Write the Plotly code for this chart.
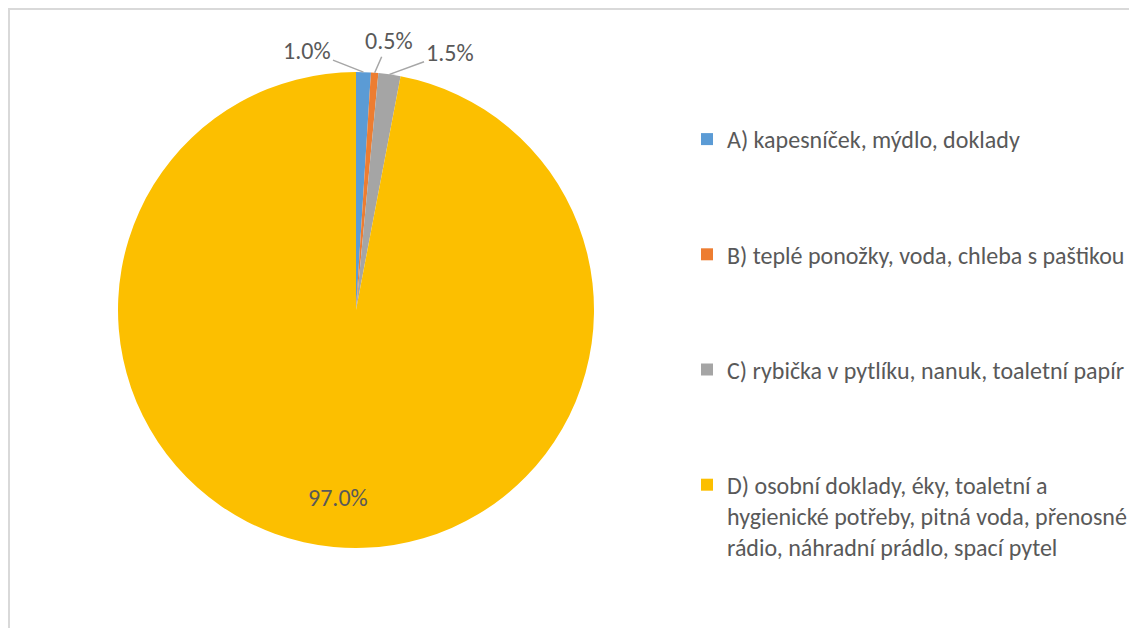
import math
import plotly.graph_objects as go

FONT = "Carlito, Lato, sans-serif"
TXT = "#595959"

labels = [
    "A) kapesníček, mýdlo, doklady",
    "B) teplé ponožky, voda, chleba s paštikou",
    "C) rybička v pytlíku, nanuk, toaletní papír",
    "D) osobní doklady, éky, toaletní a<br>hygienické potřeby, pitná voda, přenosné<br>rádio, náhradní prádlo, spací pytel",
]
values = [1.0, 0.5, 1.5, 97.0]
colors = ["#5B9BD5", "#ED7D31", "#A5A5A5", "#FCBF00"]

# page has an 8px body margin, so the figure is drawn 8px smaller/shifted
OFF = 8
W, H = 1137 - OFF, 628 - OFF
CX, CY, R = 356 - OFF, 310 - OFF, 238  # pie centre / radius in figure pixels

fig = go.Figure()
fig.add_trace(go.Pie(
    labels=labels, values=values, sort=False, direction="clockwise", rotation=0,
    marker=dict(colors=colors, line=dict(width=0)),
    textinfo="none", hoverinfo="label+percent", showlegend=False,
    domain=dict(x=[(CX - R) / W, (CX + R) / W], y=[(H - CY - R) / H, (H - CY + R) / H]),
))

# legend via dummy traces so the item spacing can match
for lab, col in zip(labels, colors):
    fig.add_trace(go.Scatter(x=[None], y=[None], mode="markers", name=lab, legendgroup=lab,
                             marker=dict(symbol="square", size=12, color=col)))

# percentage labels
total = sum(values)
offsets = [(-56, -22), (14, -32), (60, -22)]
cum = 0
for i, v in enumerate(values):
    mid = (cum + v / 2) / total
    cum += v
    th = 2 * math.pi * mid
    txt = f"{v / total:.1%}"
    if i < 3:
        px_ = CX + R * math.sin(th)
        py_ = CY - R * math.cos(th)
        ax, ay = offsets[i]
        fig.add_annotation(x=px_ / W, y=1 - py_ / H, xref="paper", yref="paper", text=txt,
                           showarrow=True, arrowhead=0, arrowwidth=1.5, arrowcolor="#A6A6A6",
                           ax=ax, ay=ay, standoff=0, font=dict(size=24, color=TXT))
    else:
        rr = 0.79 * R
        px_ = CX + rr * math.sin(th)
        py_ = CY - rr * math.cos(th)
        fig.add_annotation(x=px_ / W, y=1 - py_ / H, xref="paper", yref="paper", text=txt,
                           xanchor="center", yanchor="middle",
                           showarrow=False, font=dict(size=24, color=TXT))

fig.add_shape(type="rect", xref="paper", yref="paper", x0=1 / W, x1=1.02, y0=-0.02, y1=1 - 1 / H,
              line=dict(color="#D9D9D9", width=2), fillcolor="rgba(0,0,0,0)")

fig.update_layout(
    width=W, height=H, margin=dict(l=0, r=0, t=0, b=0),
    paper_bgcolor="white", plot_bgcolor="white",
    font=dict(family=FONT, size=24, color=TXT),
    xaxis=dict(visible=False), yaxis=dict(visible=False),
    legend=dict(x=679 / W, y=1 - 109 / H, xanchor="left", yanchor="top", valign="top",
                tracegroupgap=81, font=dict(size=24, color=TXT), bgcolor="rgba(0,0,0,0)"),
)

fig.write_html("out.html")
